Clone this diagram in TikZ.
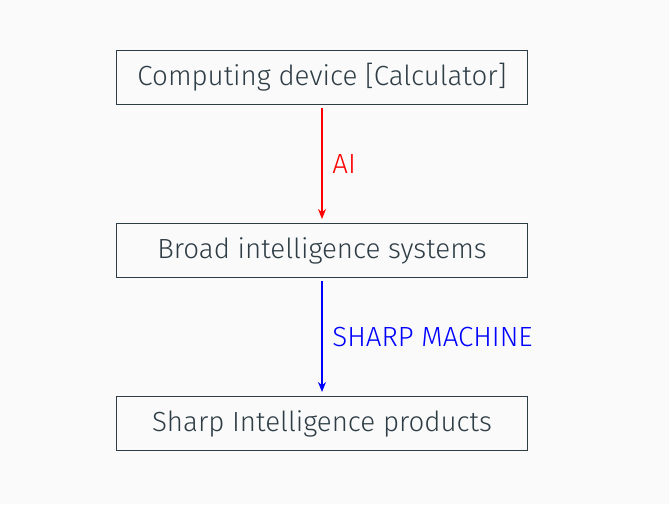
\documentclass[tikz,border=0pt]{standalone}
\usepackage{fontspec}
\setmainfont{Fira Sans}[UprightFont={* Light}]
\usetikzlibrary{positioning,arrows.meta}
\definecolor{inkgray}{HTML}{2E3D45}
\definecolor{paper}{HTML}{FAFAFA}
\begin{document}
\begin{tikzpicture}[x=1pt,y=1pt,
  font=\fontsize{27.7}{33}\selectfont,
  stage/.style={draw=inkgray,text=inkgray,line width=1pt,minimum width=411pt,minimum height=54pt,inner sep=0pt},
  flow/.style={line width=2.2pt,-{Stealth[length=10pt,width=8pt]},shorten <=3pt,shorten >=4pt},
  node distance=118pt]

%background and frame
  \fill[paper] (0,0) rectangle (669,504);
  \useasboundingbox (0,0) rectangle (669,504);

%stages
  \node[stage] (calc) at (322,426.5) {Computing device [Calculator]};
  \node[stage,below=of calc] (broad) {Broad intelligence systems};
  \node[stage,below=of broad] (sharp) {Sharp Intelligence products};

%connectors
  \draw[flow,red] (calc) -- node[right=6pt] {AI} (broad);
  \draw[flow,blue] (broad) -- node[right=6pt] {SHARP MACHINE} (sharp);

\end{tikzpicture}
\end{document}
